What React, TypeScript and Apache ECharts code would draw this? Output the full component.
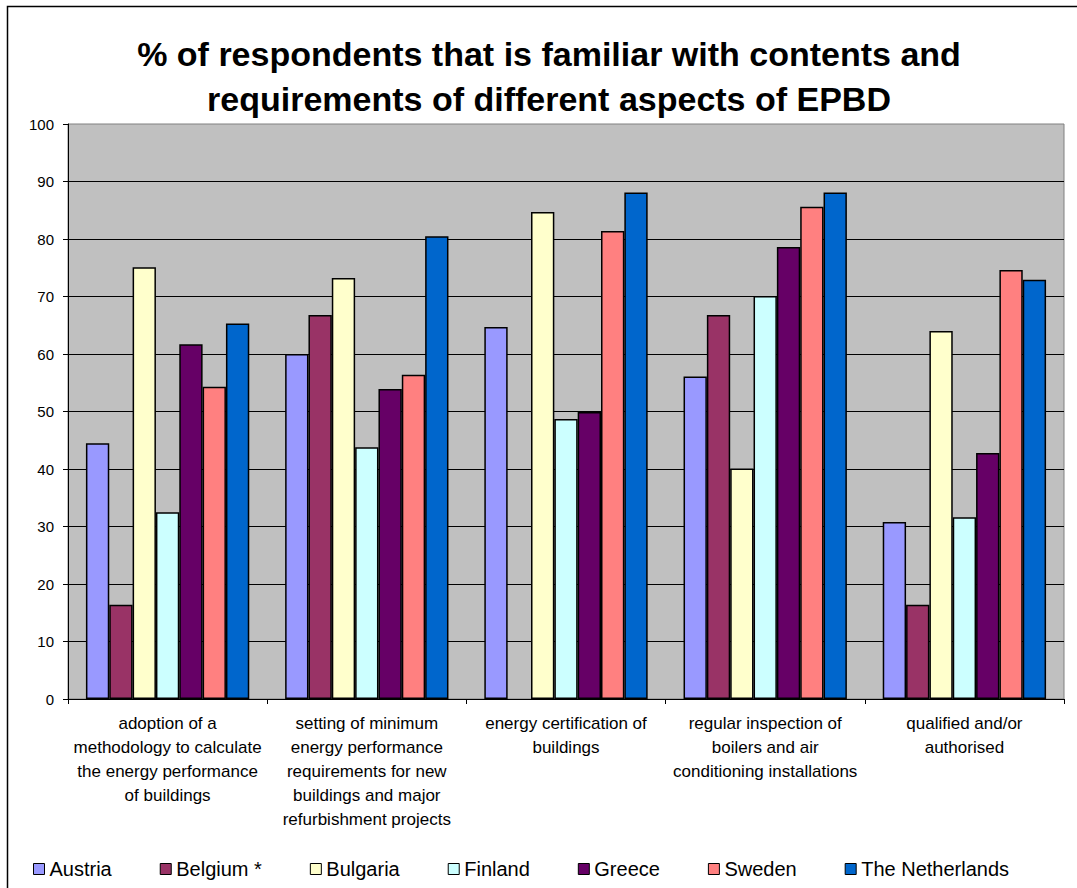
import React, { useEffect, useRef } from "react";
import * as echarts from "echarts";

const categories = [
  "adoption of a\nmethodology to calculate\nthe energy performance\nof buildings",
  "setting of minimum\nenergy performance\nrequirements for new\nbuildings and major\nrefurbishment projects",
  "energy certification of\nbuildings",
  "regular inspection of\nboilers and air\nconditioning installations",
  "qualified and/or\nauthorised",
];

const austria = [44.5, 60.0, 64.7, 56.1, 30.8];
const belgium: (number | null)[] = [16.4, 66.8, null, 66.8, 16.4];
const bulgaria = [75.1, 73.2, 84.7, 40.1, 64.0];
const finland = [32.5, 43.8, 48.7, 70.1, 31.6];
const greece = [61.7, 53.9, 49.9, 78.6, 42.8];
const sweden = [54.3, 56.4, 81.4, 85.6, 74.6];
const netherlands = [65.3, 80.5, 88.1, 88.1, 72.9];

const seriesNames = ["Austria", "Belgium *", "Bulgaria", "Finland", "Greece", "Sweden", "The Netherlands"];
const seriesValues = [austria, belgium, bulgaria, finland, greece, sweden, netherlands];
const seriesColors = ["#9999FF", "#993366", "#FFFFCC", "#CCFFFF", "#660066", "#FF8080", "#0066CC"];

const titleText = "% of respondents that is familiar with contents and\nrequirements of different aspects of EPBD";

const FONT = "'Liberation Sans', Arial, Helvetica, sans-serif";

export default function App() {
  const ref = useRef<HTMLDivElement>(null);
  useEffect(() => {
    if (!ref.current) return;
    const chart = echarts.init(ref.current, null, { renderer: "svg" });
    chart.setOption({
      animation: false,
      backgroundColor: "#FFFFFF",
      textStyle: { fontFamily: FONT },
      title: {
        text: titleText,
        left: 544,
        top: 26,
        textAlign: "center",
        textStyle: {
          fontFamily: FONT,
          fontSize: 34,
          fontWeight: "bold",
          color: "#000",
          lineHeight: 45,
        },
      },
      graphic: [
        {
          type: "rect",
          shape: { x: 7.5, y: 6.5, width: 1200, height: 1000 },
          style: { fill: "none", stroke: "#000", lineWidth: 1.5 },
          silent: true,
          z: 100,
        },
      ],
      legend: {
        left: 28,
        top: 854,
        itemWidth: 11,
        itemHeight: 11,
        itemGap: 48,
        icon: "rect",
        itemStyle: { borderColor: "#000", borderWidth: 1 },
        textStyle: { fontFamily: FONT, fontSize: 20, color: "#000" },
        data: seriesNames,
      },
      grid: {
        left: 68,
        right: 13,
        top: 124,
        bottom: 189,
        show: true,
        backgroundColor: "#C0C0C0",
        borderColor: "#808080",
        borderWidth: 1,
        containLabel: false,
      },
      xAxis: {
        type: "category",
        data: categories,
        axisLine: { lineStyle: { color: "#000", width: 1 } },
        axisTick: { show: true, alignWithLabel: false, length: 5, lineStyle: { color: "#000" } },
        axisLabel: {
          interval: 0,
          margin: 12,
          fontFamily: FONT,
          fontSize: 17,
          lineHeight: 24,
          color: "#000",
          align: "center",
        },
      },
      yAxis: {
        type: "value",
        min: 0,
        max: 100,
        interval: 10,
        axisLine: { show: true, lineStyle: { color: "#000", width: 1 } },
        axisTick: { show: true, inside: false, length: 5, lineStyle: { color: "#000" } },
        axisLabel: { margin: 14, fontFamily: FONT, fontSize: 15, color: "#000" },
        splitLine: { show: true, showMaxLine: false, lineStyle: { color: "#000", width: 1 } },
      },
      series: seriesNames.map((name, i) => ({
        name,
        type: "bar",
        data: seriesValues[i],
        barGap: "0%",
        barCategoryGap: "18%",
        itemStyle: { color: seriesColors[i], borderColor: "#000", borderWidth: 1.5 },
      })),
    });
    return () => chart.dispose();
  }, []);
  return (
    <div
      ref={ref}
      style={{ position: "fixed", left: 0, top: 0, width: 1077, height: 888 }}
    />
  );
}
